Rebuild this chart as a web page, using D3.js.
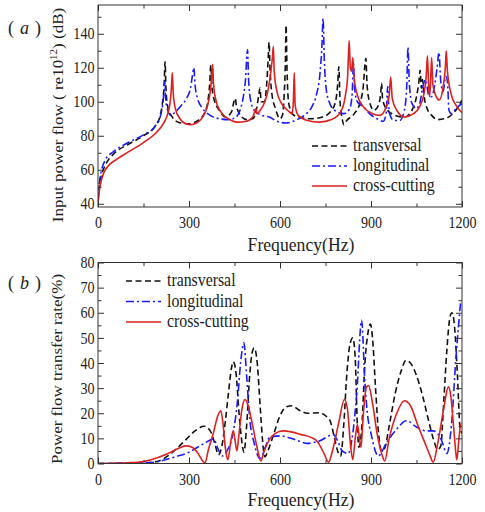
<!DOCTYPE html>
<html>
<head>
<meta charset="utf-8">
<script src="https://cdnjs.cloudflare.com/ajax/libs/d3/7.8.5/d3.min.js"></script>
<style>
  html, body { margin: 0; padding: 0; background: #fff; }
  svg { display: block; }
  text { font-family: "Liberation Serif", "Times New Roman", serif; fill: #222; }
</style>
</head>
<body>
<svg id="chart" width="485" height="512"></svg>
<script>
// Series labels shared by both panels
const seriesNames = ["transversal", "longitudinal", "cross-cutting"];

// Panel (a): input power flow (dB re 1e-12 W), [frequency Hz, level dB]
const inputTransversal = [[0,42],[5,51],[12,57],[25,63],[50,69],[100,75],[150,80],[190,86],[205,92],[213,100],[218,110],[221,123.5],[224,108],[230,97],[245,91],[265,88],[300,87],[330,89],[350,93],[362,100],[368,110],[372,121.5],[376,108],[385,100],[400,95],[420,91],[440,94],[448,100],[452,102],[456,98],[470,92],[490,89.5],[510,90],[522,95],[530,104],[534,108],[538,100],[548,100],[556,110],[561,125],[564,135],[567,120],[573,105],[585,96],[600,90],[608,92],[614,105],[618,125],[620,145],[623,120],[628,100],[640,93],[660,91],[700,90],[740,91],[770,95],[783,100],[790,110],[794,120.5],[798,100],[805,90],[810,86.5],[820,89],[845,93],[865,100],[875,110],[880,122],[883,125.5],[887,110],[895,100],[910,95],[925,98],[932,105],[935,111],[938,102],[950,96],[980,92],[1010,91],[1035,95],[1050,103],[1058,112],[1062,118.5],[1066,108],[1070,113],[1074,105],[1085,96],[1100,92],[1120,89.5],[1150,90.5],[1175,94],[1200,101]];
const inputLongitudinal = [[0,42],[5,53],[12,60],[25,66],[50,70.5],[100,76],[150,80.5],[190,86],[205,91],[213,98],[218,107],[220,112],[223,102],[230,95],[240,92],[255,94],[275,98],[295,103],[305,108],[311,115],[316,120],[320,110],[328,102],[345,96],[370,92],[400,90],[430,89.5],[455,91],[470,96],[480,104],[487,115],[491,128],[493,130.5],[496,115],[502,102],[515,95],[540,92],[565,91],[590,88.5],[620,87.5],[650,89],[680,92],[705,97],[720,104],[732,117],[738,132],[742,149],[746,125],[752,108],[762,100],[780,95],[810,93],[830,96],[838,105],[842,122.5],[846,108],[855,100],[875,97],[895,93],[920,90],[940,88.5],[950,93],[955,109],[960,94],[975,89],[995,89],[1010,95],[1018,110],[1022,132],[1026,112],[1035,99],[1050,96],[1062,100],[1070,108],[1080,113],[1090,104],[1100,103],[1110,110],[1118,120],[1124,129],[1130,112],[1138,106],[1146,115],[1152,112],[1157,95],[1165,93],[1180,96],[1200,99]];
const inputCrossCutting = [[0,40],[4,47],[10,53],[20,58.5],[35,62.5],[60,66],[100,70.5],[150,76],[190,81.5],[215,87],[230,93],[238,100],[242,108],[245,117],[248,105],[255,96],[270,90],[290,87],[305,86.5],[325,87.5],[345,91],[360,97],[370,106],[375,115],[378,122],[381,110],[390,100],[405,94],[430,90],[460,88],[490,88.5],[510,91],[518,95],[521,96],[524,93],[535,95],[550,100],[562,108],[570,118],[575,126],[578,132.5],[581,118],[590,106],[605,99],[625,95],[640,93],[644,100],[647,117],[650,98],[660,92],[690,89],[730,88],[770,89.5],[800,94],[815,103],[823,115],[828,136],[832,120],[836,118],[840,126],[844,115],[855,104],[875,97],[905,93],[930,92],[950,97],[960,104],[965,114.5],[970,102],[985,95],[1010,91],[1040,93],[1060,97],[1075,105],[1082,115],[1086,127],[1090,110],[1093,103],[1096,110],[1100,126],[1104,110],[1115,103],[1125,101],[1138,109],[1145,120],[1148,130],[1152,118],[1165,104],[1180,98],[1200,93.5]];

// Panel (b): power flow transfer rate (%), [frequency Hz, rate %]
const rateTransversal = [[0,0],[150,0.2],[200,1],[230,3],[260,6],[290,9.5],[320,13],[350,14.8],[370,13],[385,8],[397,3.5],[410,8],[420,17],[430,28],[440,38],[446,40.5],[455,36],[465,20],[475,8],[481,4.5],[490,15],[500,35],[508,44],[515,46],[525,40],[535,22],[545,6],[550,2.7],[560,5],[580,12],[600,19],[620,22.5],[640,23],[660,21.5],[690,20],[730,20.2],[750,19],[765,17],[780,10],[790,5],[800,3],[810,15],[820,35],[830,47],[840,50],[848,42],[855,15],[860,6.5],[870,15],[880,40],[890,52],[898,55.5],[905,50],[915,30],[925,12],[935,5],[945,6],[960,15],[980,28],[1000,37],[1015,41],[1030,40],[1050,35],[1070,27],[1090,17],[1105,10],[1120,5.5],[1130,7],[1140,25],[1150,45],[1160,58],[1167,60],[1175,55],[1185,35],[1193,15],[1200,12]];
const rateLongitudinal = [[0,0],[150,0.2],[200,0.8],[250,2.5],[300,4.5],[350,8],[381,9.7],[395,6],[410,3],[425,5],[445,12],[460,25],[470,40],[481,48],[490,35],[500,18],[515,8],[534,2],[550,6],[567,10.5],[600,11],[650,9.5],[690,8],[730,9],[776,11.5],[790,9],[805,5],[825,4],[840,12],[853,28],[869,57],[880,32],[888,20],[900,12],[924,3],[950,8],[980,13],[1018,17],[1050,14.5],[1080,13],[1105,13],[1130,10],[1150,4],[1165,15],[1180,42],[1196,65]];
const rateCrossCutting = [[0,0],[100,0.3],[150,0.8],[200,2.5],[240,4.5],[270,6.3],[290,7],[310,6.5],[330,4],[345,1],[352,0.2],[365,6],[380,12],[395,19],[405,21],[412,16],[420,6],[428,1.5],[438,9],[446,13],[452,9],[458,5],[465,12],[475,22],[485,25.5],[495,23],[510,15],[525,6],[537,1],[548,5],[565,9.5],[585,12],[610,13],[640,12.5],[670,11.5],[700,10.5],[725,8.5],[745,4],[760,0.5],[775,6],[795,17],[812,25.5],[822,22],[832,8],[840,1.5],[848,10],[855,15.5],[862,10],[867,6.5],[875,20],[885,30.5],[892,31],[905,24],[920,12],[935,4],[945,1],[960,10],[985,20],[1010,25],[1030,23],[1055,15],[1075,9],[1095,3],[1105,0.5],[1120,8],[1140,22],[1155,30.5],[1163,27],[1172,15],[1180,4],[1183,1.5],[1190,10],[1195,16]];

// Axis ticks
const freqTicks = [0, 300, 600, 900, 1200];
const freqMinor = [150, 450, 750, 1050];
const dbTicks = [40, 60, 80, 100, 120, 140];
const dbMinor = [50, 70, 90, 110, 130, 150];
const rateTicks = [0, 10, 20, 30, 40, 50, 60, 70, 80];
const rateMinor = [5, 15, 25, 35, 45, 55, 65, 75];

const styles = [
  { color: "#111111", dash: "6,3.5" },
  { color: "#1a1aff", dash: "8,3,2,3" },
  { color: "#dd2020", dash: null }
];

// Glyphs in this figure are set slightly narrow
const SQUEEZE = 0.88;

const svg = d3.select("#chart");

function label(g, x, y, size, anchor, squeeze) {
  return g.append("text")
    .attr("transform", `translate(${x},${y}) scale(${squeeze || SQUEEZE},1)`)
    .attr("text-anchor", anchor || "start")
    .attr("font-size", size);
}

function panel(cfg) {
  const x = d3.scaleLinear().domain([0, 1200]).range([cfg.left, cfg.right]);
  const y = d3.scaleLinear().domain(cfg.yDomain).range([cfg.bottom, cfg.top]);
  const g = svg.append("g");
  const clipId = "clip-" + cfg.id;
  svg.append("defs").append("clipPath").attr("id", clipId)
    .append("rect").attr("x", cfg.left).attr("y", cfg.top)
    .attr("width", cfg.right - cfg.left).attr("height", cfg.bottom - cfg.top);

  const line = d3.line().x(d => x(d[0])).y(d => y(d[1])).curve(d3.curveMonotoneX);
  const lines = g.append("g").attr("clip-path", `url(#${clipId})`);
  cfg.series.forEach((s, i) => {
    lines.append("path").datum(s)
      .attr("d", line)
      .attr("fill", "none")
      .attr("stroke", styles[i].color)
      .attr("stroke-width", 1.6)
      .attr("stroke-dasharray", styles[i].dash)
      .attr("stroke-linejoin", "round");
  });

  // Axes with inward ticks on all four sides
  const fmt = d3.format("d");
  g.append("g").attr("transform", `translate(0,${cfg.bottom})`)
    .call(d3.axisBottom(x).tickValues(freqTicks).tickSizeInner(-6).tickSizeOuter(0).tickPadding(10).tickFormat(fmt));
  g.append("g").attr("transform", `translate(0,${cfg.bottom})`)
    .call(d3.axisBottom(x).tickValues(freqMinor).tickSizeInner(-3.5).tickSizeOuter(0).tickFormat(""));
  g.append("g").attr("transform", `translate(0,${cfg.top})`)
    .call(d3.axisTop(x).tickValues(freqTicks).tickSizeInner(-6).tickSizeOuter(0).tickFormat(""));
  g.append("g").attr("transform", `translate(0,${cfg.top})`)
    .call(d3.axisTop(x).tickValues(freqMinor).tickSizeInner(-3.5).tickSizeOuter(0).tickFormat(""));
  g.append("g").attr("transform", `translate(${cfg.left},0)`)
    .call(d3.axisLeft(y).tickValues(cfg.yTicks).tickSizeInner(-6).tickSizeOuter(0).tickPadding(4).tickFormat(fmt));
  g.append("g").attr("transform", `translate(${cfg.left},0)`)
    .call(d3.axisLeft(y).tickValues(cfg.yMinor).tickSizeInner(-3.5).tickSizeOuter(0).tickFormat(""));
  g.append("g").attr("transform", `translate(${cfg.right},0)`)
    .call(d3.axisRight(y).tickValues(cfg.yTicks).tickSizeInner(-6).tickSizeOuter(0).tickFormat(""));
  g.append("g").attr("transform", `translate(${cfg.right},0)`)
    .call(d3.axisRight(y).tickValues(cfg.yMinor).tickSizeInner(-3.5).tickSizeOuter(0).tickFormat(""));

  g.selectAll(".domain").remove();
  g.selectAll(".tick line").attr("stroke", "#333").attr("stroke-width", 1);
  g.selectAll(".tick text").attr("font-size", 16).attr("fill", "#222")
    .attr("transform", `scale(${SQUEEZE},1)`)
    .style("font-family", "'Liberation Serif', serif");

  g.append("rect").attr("x", cfg.left).attr("y", cfg.top)
    .attr("width", cfg.right - cfg.left).attr("height", cfg.bottom - cfg.top)
    .attr("fill", "none").attr("stroke", "#333").attr("stroke-width", 1);

  // Panel letter
  g.append("text").attr("x", 8).attr("y", cfg.tagY).attr("font-size", 18).text("(");
  g.append("text").attr("x", 20).attr("y", cfg.tagY).attr("font-size", 18)
    .attr("font-style", "italic").text(cfg.tag);
  g.append("text").attr("x", 35).attr("y", cfg.tagY).attr("font-size", 18).text(")");

  // Axis titles
  label(g, 301, cfg.xTitleY, 19, "middle", 0.93).text("Frequency(Hz)");
  const yt = g.append("text")
    .attr("transform", `translate(${cfg.yTitleX},${cfg.yTitleY}) scale(${SQUEEZE},1) rotate(-90)`)
    .attr("text-anchor", "middle").attr("font-size", 17);
  cfg.yTitle(yt);

  // Legend
  cfg.series.forEach((s, i) => {
    const ly = cfg.legend.y + i * cfg.legend.dy;
    g.append("line").attr("x1", cfg.legend.x).attr("x2", cfg.legend.x + 35)
      .attr("y1", ly - 5).attr("y2", ly - 5)
      .attr("stroke", styles[i].color).attr("stroke-width", 1.6)
      .attr("stroke-dasharray", styles[i].dash);
    label(g, cfg.legend.x + 41, ly, 18).text(seriesNames[i]);
  });
}

panel({
  id: "a", tag: "a", tagY: 34,
  left: 98, right: 462, top: 5, bottom: 207,
  yDomain: [38.1, 156.9], yTicks: dbTicks, yMinor: dbMinor,
  series: [inputTransversal, inputLongitudinal, inputCrossCutting],
  xTitleY: 250.5, yTitleX: 63, yTitleY: 115,
  yTitle: t => {
    t.append("tspan").text("Input power flow ( re10");
    t.append("tspan").attr("dy", -7).attr("font-size", 11).text("12");
    t.append("tspan").attr("dy", 7).text(") (dB)");
  },
  legend: { x: 312, y: 151, dy: 20 }
});

panel({
  id: "b", tag: "b", tagY: 289,
  left: 98, right: 462, top: 262.5, bottom: 463.5,
  yDomain: [0, 80], yTicks: rateTicks, yMinor: rateMinor,
  series: [rateTransversal, rateLongitudinal, rateCrossCutting],
  xTitleY: 505.5, yTitleX: 62, yTitleY: 369,
  yTitle: t => t.text("Power flow transfer rate(%)"),
  legend: { x: 126, y: 286, dy: 20.5 }
});
</script>
</body>
</html>
